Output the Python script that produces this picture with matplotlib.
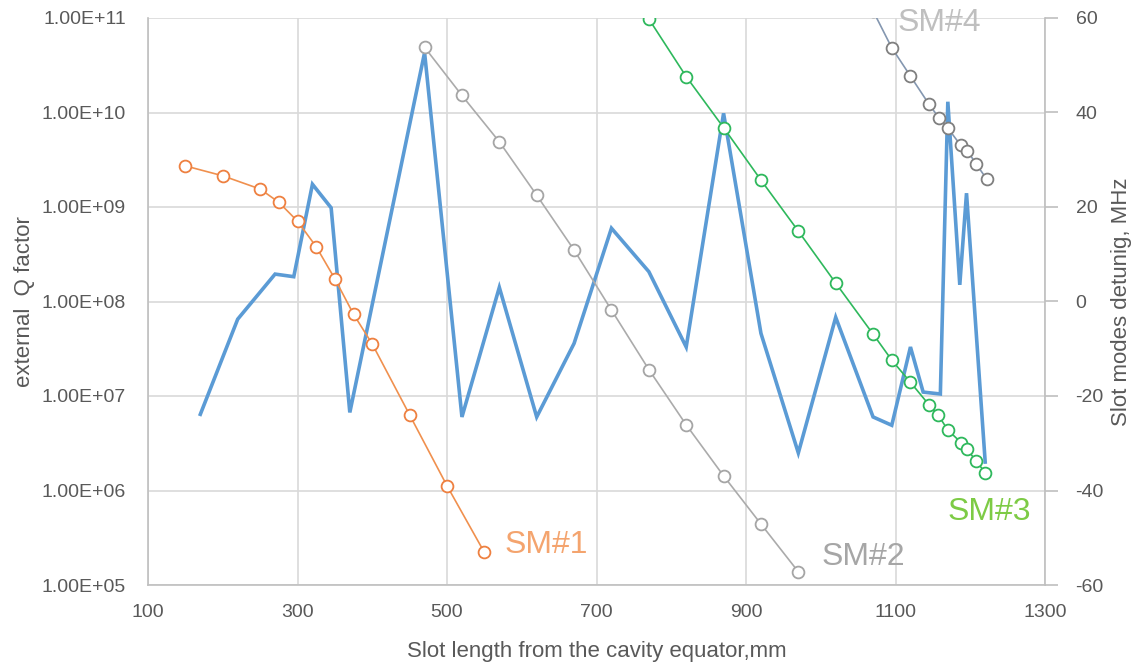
import numpy as np
import matplotlib
matplotlib.use("Agg")
from matplotlib import pyplot as plt
from matplotlib.ticker import FixedLocator, FuncFormatter

plt.rcParams["font.family"] = ["Liberation Sans", "DejaVu Sans"]
plt.rcParams["axes.unicode_minus"] = False

# --------------- datos

# factor Q externo (eje izquierdo, log)
q_x = [170, 220, 270, 295, 320, 345, 370, 470, 520, 570, 620, 670, 720, 770,
       820, 870, 920, 970, 1020, 1070, 1095, 1120, 1137, 1160, 1170, 1186, 1195, 1220]
q_val = [6.4e6, 6.5e7, 1.95e8, 1.83e8, 1.74e9, 9.8e8, 6.7e6, 4.3e10, 6.0e6, 1.41e8,
         6.0e6, 3.6e7, 5.96e8, 2.07e8, 3.3e7, 9.8e9, 4.6e7, 2.5e6, 6.8e7, 6.0e6,
         4.9e6, 3.3e7, 1.1e7, 1.05e7, 1.3e10, 1.5e8, 1.4e9, 2.0e6]

# desintonia de los modos de ranura (eje derecho, MHz)
sm1_x = [150, 200, 250, 275, 300, 325, 350, 375, 400, 450, 500, 550]
sm1_mhz = [28.7, 26.6, 23.8, 21.0, 17.0, 11.6, 4.8, -2.7, -9.0, -24.0, -39.0, -53.1]

sm2_x = [470, 520, 570, 620, 670, 720, 770, 820, 870, 920, 970]
sm2_mhz = [53.8, 43.6, 33.8, 22.5, 10.9, -1.8, -14.4, -26.1, -36.9, -47.1, -57.2]

sm3_x = [770, 820, 870, 920, 970, 1020, 1070, 1095, 1120, 1145, 1157, 1170, 1188, 1196, 1208, 1220]
sm3_mhz = [59.8, 47.6, 36.8, 25.7, 14.9, 3.9, -6.9, -12.4, -17.1, -21.9, -24.0, -27.2,
           -29.9, -31.3, -33.8, -36.2]

sm4_x = [1070, 1095, 1120, 1145, 1158, 1170, 1187, 1196, 1208, 1222]
sm4_mhz = [61.5, 53.7, 47.7, 41.7, 38.9, 36.7, 33.1, 31.9, 29.1, 25.9]

x_ticks = [100, 300, 500, 700, 900, 1100, 1300]
q_ticks = [1e5, 1e6, 1e7, 1e8, 1e9, 1e10, 1e11]
mhz_ticks = [-60, -40, -20, 0, 20, 40, 60]

# --------------- grafico

texto = "#595959"
rejilla = "#D9D9D9"

fig = plt.figure(figsize=(11.35, 6.65), dpi=100)
ax = fig.add_axes([148 / 1135, 1 - 585 / 665, (1045 - 148) / 1135, 567 / 665])
ax2 = ax.twinx()

ax.plot(q_x, q_val, color="#5B9BD5", lw=2.6, solid_joinstyle="miter", zorder=3)
ax.set_yscale("log")
ax.set_ylim(1e5, 1e11)
ax.set_xlim(100, 1300)
ax.yaxis.set_major_locator(FixedLocator(q_ticks))
ax.yaxis.set_minor_locator(FixedLocator([]))
ax.yaxis.set_major_formatter(FuncFormatter(lambda v, p: "%.2E" % v))
ax.set_xticks(x_ticks)
ax.grid(True, color=rejilla, lw=1.2)
ax.set_axisbelow(True)

for s in ["top", "right"]:
    ax.spines[s].set_visible(False)
for s in ["left", "bottom"]:
    ax.spines[s].set_color("#BFBFBF")
    ax.spines[s].set_linewidth(1.2)
ax.tick_params(axis="y", length=0, colors=texto, labelsize=14, pad=16)
ax.tick_params(axis="x", length=0, colors=texto, labelsize=14, pad=14)

ax.set_ylabel("external  Q factor", color=texto, fontsize=16)
ax.yaxis.set_label_coords(-0.126, 0.5)
ax.set_xlabel("Slot length from the cavity equator,mm", color=texto, fontsize=16)
ax.xaxis.set_label_coords(0.5, -0.098)

estilo = dict(marker="o", markersize=8.5, markerfacecolor="white", markeredgewidth=1.3, lw=1.2)
ax2.plot(sm1_x, sm1_mhz, color="#F0904E", markeredgecolor="#EE8040", **estilo)
ax2.plot(sm2_x, sm2_mhz, color="#ABABAB", markeredgecolor="#A5A5A5", **estilo)
ax2.plot(sm3_x, sm3_mhz, color="#2EB85C", markeredgecolor="#2EB85C", **estilo)
ax2.plot(sm4_x, sm4_mhz, color="#8497B0", markeredgecolor="#7F7F7F", **estilo)

ax2.set_ylim(-60, 60)
ax2.set_yticks(mhz_ticks)
for s in ["top", "left", "bottom"]:
    ax2.spines[s].set_visible(False)
ax2.spines["right"].set_color("#BFBFBF")
ax2.spines["right"].set_linewidth(1.2)
ax2.tick_params(axis="y", length=9, width=1.2, color="#BFBFBF", labelcolor=texto, labelsize=14, pad=13)
ax2.set_ylabel("Slot modes detunig, MHz", color=texto, fontsize=16, rotation=90)
ax2.yaxis.set_label_coords(1.074, 0.5)

# etiquetas de cada modo
ax2.text(577, -51.5, "SM#1", color="#F4A46E", fontsize=23, va="center")
ax2.text(1001, -54, "SM#2", color="#A6A6A6", fontsize=23, va="center")
ax2.text(1170, -44.5, "SM#3", color="#7DCB45", fontsize=23, va="center")
ax2.text(1103, 59.0, "SM#4", color="#BFBFBF", fontsize=23, va="center")

fig.savefig("out.png", dpi=100)
